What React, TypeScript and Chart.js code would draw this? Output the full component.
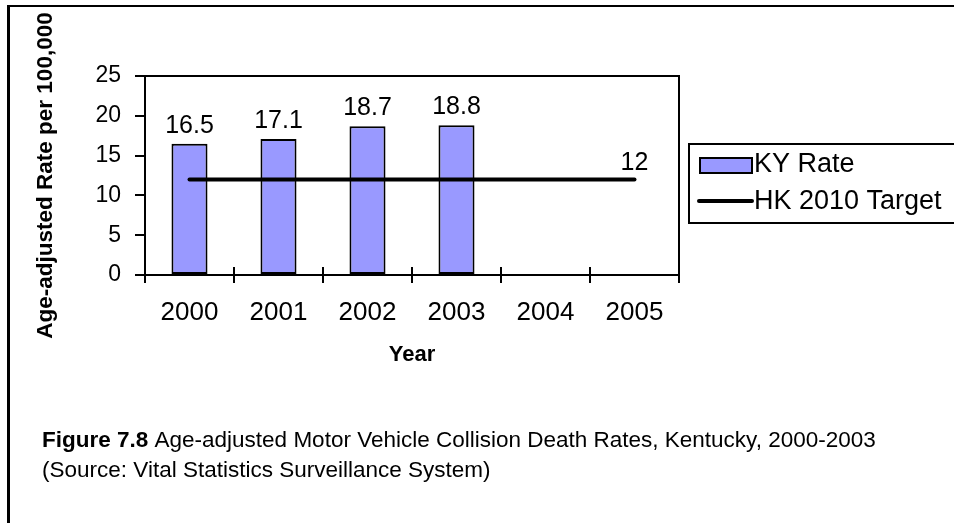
import React, { useEffect, useRef } from "react";
import { Chart, registerables } from "chart.js";

Chart.register(...registerables);

const years = ["2000", "2001", "2002", "2003", "2004", "2005"];
const kyRate = [16.5, 17.1, 18.7, 18.8, null, null];
const hkTarget = [12, 12, 12, 12, 12, 12];
const seriesNames = ["KY Rate", "HK 2010 Target"];
const yMin = 0;
const yMax = 25;
const yStep = 5;
const yTitle = "Age-adjusted Rate per 100,000";
const xTitle = "Year";
const captionBold = "Figure 7.8";
const captionRest = " Age-adjusted Motor Vehicle Collision Death Rates, Kentucky, 2000-2003";
const captionLine2 = "(Source: Vital Statistics Surveillance System)";

const FAMILY = "'Liberation Sans', Arial, Helvetica, sans-serif";
const BAR_COLOR = "#9999FF";

const decorPlugin = {
  id: "decor",
  beforeDraw(chart: any) {
    const { ctx } = chart;
    ctx.save();
    ctx.fillStyle = "#ffffff";
    ctx.fillRect(0, 0, chart.width, chart.height);
    ctx.restore();
  },
  afterDraw(chart: any) {
    const { ctx, chartArea: ca } = chart;
    ctx.save();
    // outer figure frame
    ctx.fillStyle = "#000";
    ctx.fillRect(7, 5, chart.width, 2);
    ctx.fillRect(7, 5, 3, chart.height);

    // plot-area border (top and right)
    ctx.strokeStyle = "#000";
    ctx.lineWidth = 2;
    ctx.beginPath();
    ctx.moveTo(ca.left, ca.top);
    ctx.lineTo(ca.right, ca.top);
    ctx.lineTo(ca.right, ca.bottom);
    ctx.stroke();

    // x ticks crossing above the axis
    const n = years.length;
    const w = (ca.right - ca.left) / n;
    ctx.beginPath();
    for (let i = 1; i <= n; i++) {
      const x = ca.left + i * w;
      ctx.moveTo(x, ca.bottom - 8);
      ctx.lineTo(x, ca.bottom);
    }
    ctx.stroke();

    // data labels
    ctx.fillStyle = "#000";
    ctx.font = `25px ${FAMILY}`;
    ctx.textAlign = "center";
    ctx.textBaseline = "alphabetic";
    const barMeta = chart.getDatasetMeta(0);
    barMeta.data.forEach((el: any, i: number) => {
      const v = kyRate[i];
      if (v === null || v === undefined) return;
      ctx.fillText(String(v), el.x, el.y - 11);
    });
    const lineMeta = chart.getDatasetMeta(1);
    const last = lineMeta.data[lineMeta.data.length - 1];
    if (last) {
      ctx.fillText(String(hkTarget[hkTarget.length - 1]), last.x, last.y - 9);
    }

    // legend
    const lx = 689, ly = 144, lh = 79;
    ctx.lineWidth = 2;
    ctx.strokeStyle = "#000";
    ctx.strokeRect(lx, ly, chart.width, lh);
    ctx.fillStyle = BAR_COLOR;
    ctx.fillRect(700, 158, 52, 15);
    ctx.strokeRect(700, 158, 52, 15);
    ctx.lineWidth = 4;
    ctx.lineCap = "round";
    ctx.beginPath();
    ctx.moveTo(699, 201);
    ctx.lineTo(752, 201);
    ctx.stroke();
    ctx.fillStyle = "#000";
    ctx.font = `27px ${FAMILY}`;
    ctx.textAlign = "left";
    ctx.textBaseline = "middle";
    ctx.fillText(seriesNames[0], 754, 165);
    ctx.fillText(seriesNames[1], 754, 202);

    // caption
    ctx.textBaseline = "alphabetic";
    ctx.font = `bold 22.5px ${FAMILY}`;
    ctx.fillText(captionBold, 42, 447);
    const bw = ctx.measureText(captionBold).width;
    ctx.font = `22.5px ${FAMILY}`;
    ctx.fillText(captionRest, 42 + bw, 447);
    ctx.fillText(captionLine2, 42, 477);
    ctx.restore();
  },
};

export default function App() {
  const canvasRef = useRef<HTMLCanvasElement | null>(null);

  useEffect(() => {
    if (!canvasRef.current) return;
    Chart.defaults.font.family = FAMILY;
    const chart = new Chart(canvasRef.current, {
      type: "bar",
      data: {
        labels: years,
        datasets: [
          {
            type: "bar",
            label: seriesNames[0],
            data: kyRate,
            backgroundColor: BAR_COLOR,
            borderColor: "#000",
            borderWidth: 2,
            borderSkipped: false,
            barPercentage: 0.405,
            categoryPercentage: 1,
            order: 2,
          } as any,
          {
            type: "line",
            label: seriesNames[1],
            data: hkTarget,
            borderColor: "#000",
            borderWidth: 4,
            borderCapStyle: "round",
            pointRadius: 0,
            fill: false,
            order: 1,
          } as any,
        ],
      },
      options: {
        responsive: false,
        animation: false,
        layout: { padding: { left: 0, top: 76, right: 275, bottom: 0 } },
        plugins: {
          legend: { display: false },
          tooltip: { enabled: false },
        },
        scales: {
          x: {
            grid: {
              offset: true,
              drawOnChartArea: false,
              drawTicks: true,
              tickLength: 8,
              color: "#000",
              lineWidth: 2,
            },
            border: { color: "#000", width: 2 },
            ticks: {
              color: "#000",
              font: { size: 26 },
              padding: 14,
              maxRotation: 0,
              autoSkip: false,
            },
            title: {
              display: true,
              text: xTitle,
              color: "#000",
              font: { size: 22, weight: "bold" },
              padding: { top: 0, bottom: 155 },
            },
            afterFit(scale: any) {
              scale.height = 248;
            },
          },
          y: {
            min: yMin,
            max: yMax,
            ticks: { stepSize: yStep, color: "#000", font: { size: 23 }, padding: 14 },
            grid: {
              drawOnChartArea: false,
              drawTicks: true,
              tickLength: 10,
              color: "#000",
              lineWidth: 2,
            },
            border: { color: "#000", width: 2 },
            title: {
              display: true,
              text: yTitle,
              color: "#000",
              font: { size: 22.5, weight: "bold" },
              padding: { top: 32, bottom: 0 },
            },
            afterFit(scale: any) {
              scale.width = 145;
            },
          },
        },
      } as any,
      plugins: [decorPlugin],
    });
    return () => chart.destroy();
  }, []);

  return (
    <div style={{ position: "absolute", left: 0, top: 0, width: 954, height: 523 }}>
      <canvas ref={canvasRef} width={954} height={523} style={{ display: "block" }} />
    </div>
  );
}
